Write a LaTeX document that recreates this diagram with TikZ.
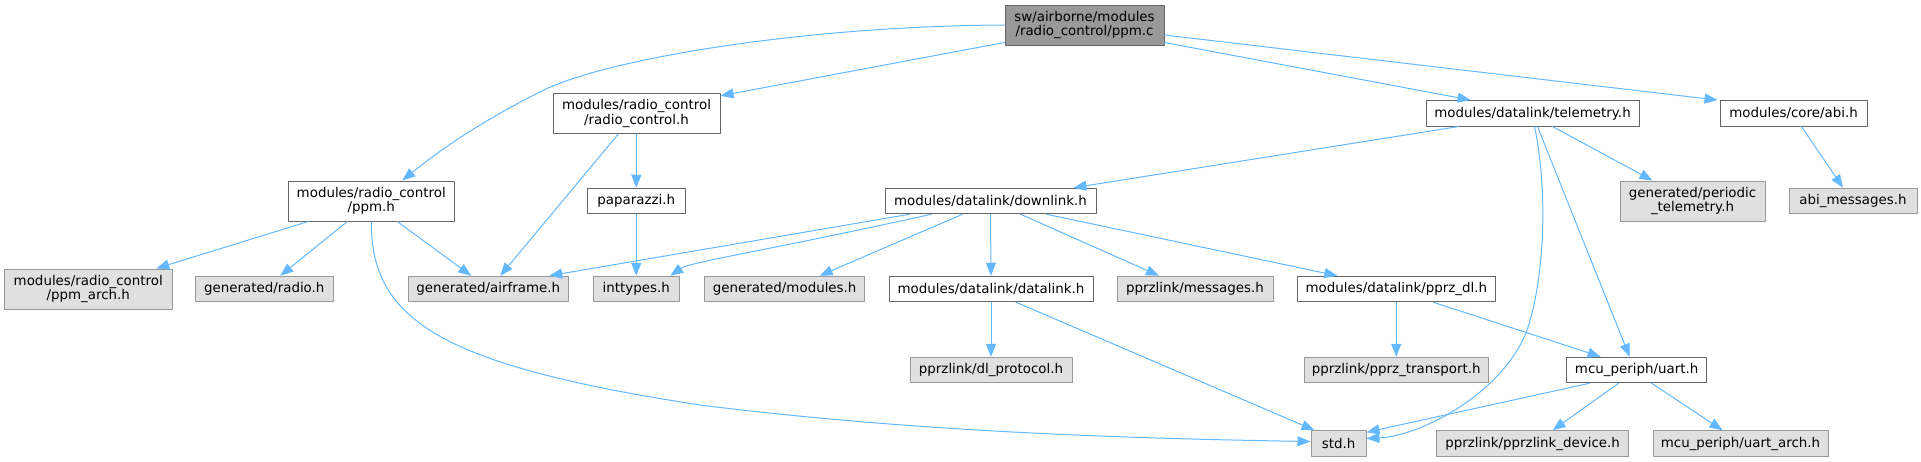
\documentclass[tikz,border=0pt]{standalone}
\usepackage{fontspec}
\setmainfont{DejaVu Sans}
\usetikzlibrary{arrows.meta}
\definecolor{edgeblue}{HTML}{63B8FF}
\definecolor{extfill}{HTML}{E0E0E0}
\definecolor{extline}{HTML}{999999}
\definecolor{ownline}{HTML}{666666}
\begin{document}
\begin{tikzpicture}[x=1pt, y=-1pt, line cap=round, line join=round,
    font=\fontsize{13.4}{14.5}\selectfont,
    file/.style={draw=ownline, fill=white, line width=1pt, inner xsep=3pt,
      inner ysep=2pt, minimum height=25.5pt, align=center},
    ext/.style={file, draw=extline, fill=extfill},
    root/.style={file, fill=extline},
    tall/.style={minimum height=40pt},
    dep/.style={draw=edgeblue, line width=1pt, -{Triangle[length=13pt, width=10pt]}}]
  \useasboundingbox (0,0) rectangle (1921,461);
  % oberste Ebenen
  \node[root, tall, minimum width=159pt] (ppmc) at (1084.5,25) {sw/airborne/modules\\/radio\_control/ppm.c};
  \node[file, tall, minimum width=167pt] (rcontrol) at (636.5,113.3) {modules/radio\_control\\/radio\_control.h};
  \node[file, minimum width=213pt] (telem) at (1532.5,113.3) {modules/datalink/telemetry.h};
  \node[file, minimum width=147pt] (abi) at (1793.5,113.3) {modules/core/abi.h};
  \node[file, tall, minimum width=166.5pt] (ppmh) at (371.25,201) {modules/radio\_control\\/ppm.h};
  \node[file, minimum width=97.5pt] (papa) at (636.25,201) {paparazzi.h};
  \node[file, minimum width=211pt] (downlink) at (990.5,201) {modules/datalink/downlink.h};
  \node[ext, tall, minimum width=145pt] (periodic) at (1692.5,201) {generated/periodic\\\_telemetry.h};
  \node[ext, minimum width=128pt] (abimsg) at (1853,201) {abi\_messages.h};
  % vierte Ebene
  \node[ext, tall, minimum width=167.5pt] (ppmarch) at (88.25,289) {modules/radio\_control\\/ppm\_arch.h};
  \node[ext, minimum width=137.5pt] (radio) at (264.25,289) {generated/radio.h};
  \node[ext, minimum width=159.5pt] (airframe) at (488.25,289) {generated/airframe.h};
  \node[ext, minimum width=86.5pt] (inttypes) at (636.25,289) {inttypes.h};
  \node[ext, minimum width=160pt] (genmod) at (784.6,289) {generated/modules.h};
  \node[file, minimum width=204pt] (datalink) at (991,289) {modules/datalink/datalink.h};
  \node[ext, minimum width=156pt] (pmsg) at (1195,289) {pprzlink/messages.h};
  \node[file, minimum width=198.6pt] (pprzdl) at (1396.3,289) {modules/datalink/pprz\_dl.h};
  % untere Ebenen
  \node[ext, minimum width=162pt] (dlproto) at (991,370) {pprzlink/dl\_protocol.h};
  \node[ext, minimum width=184.5pt] (ptrans) at (1396.25,370) {pprzlink/pprz\_transport.h};
  \node[file, minimum width=140pt] (uart) at (1636.6,370) {mcu\_periph/uart.h};
  \node[ext, minimum width=55pt] (stdh) at (1338.5,443.5) {std.h};
  \node[ext, minimum width=192pt] (pdevice) at (1532.65,443.5) {pprzlink/pprzlink\_device.h};
  \node[ext, minimum width=175pt] (uartarch) at (1740.5,443.5) {mcu\_periph/uart\_arch.h};
  % Abhaengigkeiten von ppm.c
  \draw[dep] (ppmc.west) .. controls (800,26) and (600,60) .. (540,92)
    .. controls (480,122) and (440,150) .. ([xshift=31pt]ppmh.north);
  \draw[dep] ([yshift=3pt]ppmc.south west) -- ([yshift=-3pt]rcontrol.north east);
  \draw[dep] ([yshift=3pt]ppmc.south east) -- ([xshift=-62pt]telem.north);
  \draw[dep] ([yshift=-10pt]ppmc.east) -- ([xshift=-2pt]abi.north west);
  % zweite Ebene
  \draw[dep] (rcontrol.south) -- (papa.north);
  \draw[dep] ([xshift=-18pt]rcontrol.south) -- ([xshift=12pt]airframe.north);
  \draw[dep] ([xshift=-74pt]telem.south) -- ([xshift=83pt]downlink.north);
  \draw[dep] ([xshift=20pt]telem.south) -- ([xshift=-40pt]periodic.north);
  \draw[dep] ([xshift=5pt]telem.south) -- ([xshift=-7pt]uart.north);
  \draw[dep] ([xshift=2pt]telem.south) .. controls (1548,190) and (1545,280) .. (1526,333)
    .. controls (1500,395) and (1420,436) .. ([yshift=5pt]stdh.east);
  \draw[dep] ([xshift=8pt]abi.south) -- ([xshift=-10pt]abimsg.north);
  % dritte Ebene
  \draw[dep] (papa.south) -- (inttypes.north);
  \draw[dep] ([xshift=-63pt]ppmh.south) -- ([xshift=68pt]ppmarch.north);
  \draw[dep] ([xshift=-24pt]ppmh.south) -- ([xshift=16pt]radio.north);
  \draw[dep] ([xshift=26pt]ppmh.south) -- ([xshift=-17pt]airframe.north);
  \draw[dep] (ppmh.south) .. controls (371,320) and (440,365) .. (700,405)
    .. controls (900,430) and (1100,438) .. ([yshift=2pt]stdh.west);
  \draw[dep] ([xshift=-81pt]downlink.south) -- ([xshift=61pt]airframe.north);
  \draw[dep] ([xshift=-59pt]downlink.south) .. controls (760,252) and (690,262) .. ([xshift=34pt]inttypes.north);
  \draw[dep] ([xshift=-28pt]downlink.south) -- ([xshift=35pt]genmod.north);
  \draw[dep] (downlink.south) -- (datalink.north);
  \draw[dep] ([xshift=30pt]downlink.south) -- ([xshift=-36pt]pmsg.north);
  \draw[dep] ([xshift=56pt]downlink.south) -- ([xshift=-59pt]pprzdl.north);
  % vierte Ebene
  \draw[dep] (datalink.south) -- (dlproto.north);
  \draw[dep] ([xshift=25pt]datalink.south) -- ([xshift=4pt]stdh.north west);
  \draw[dep] (pprzdl.south) -- (ptrans.north);
  \draw[dep] ([xshift=37pt]pprzdl.south) -- ([xshift=-36pt]uart.north);
  \draw[dep] ([xshift=-47pt]uart.south) -- ([yshift=-2pt]stdh.north east);
  \draw[dep] ([xshift=-18pt]uart.south) -- ([xshift=20pt]pdevice.north);
  \draw[dep] ([xshift=15pt]uart.south) -- ([xshift=-18pt]uartarch.north);
\end{tikzpicture}
\end{document}
